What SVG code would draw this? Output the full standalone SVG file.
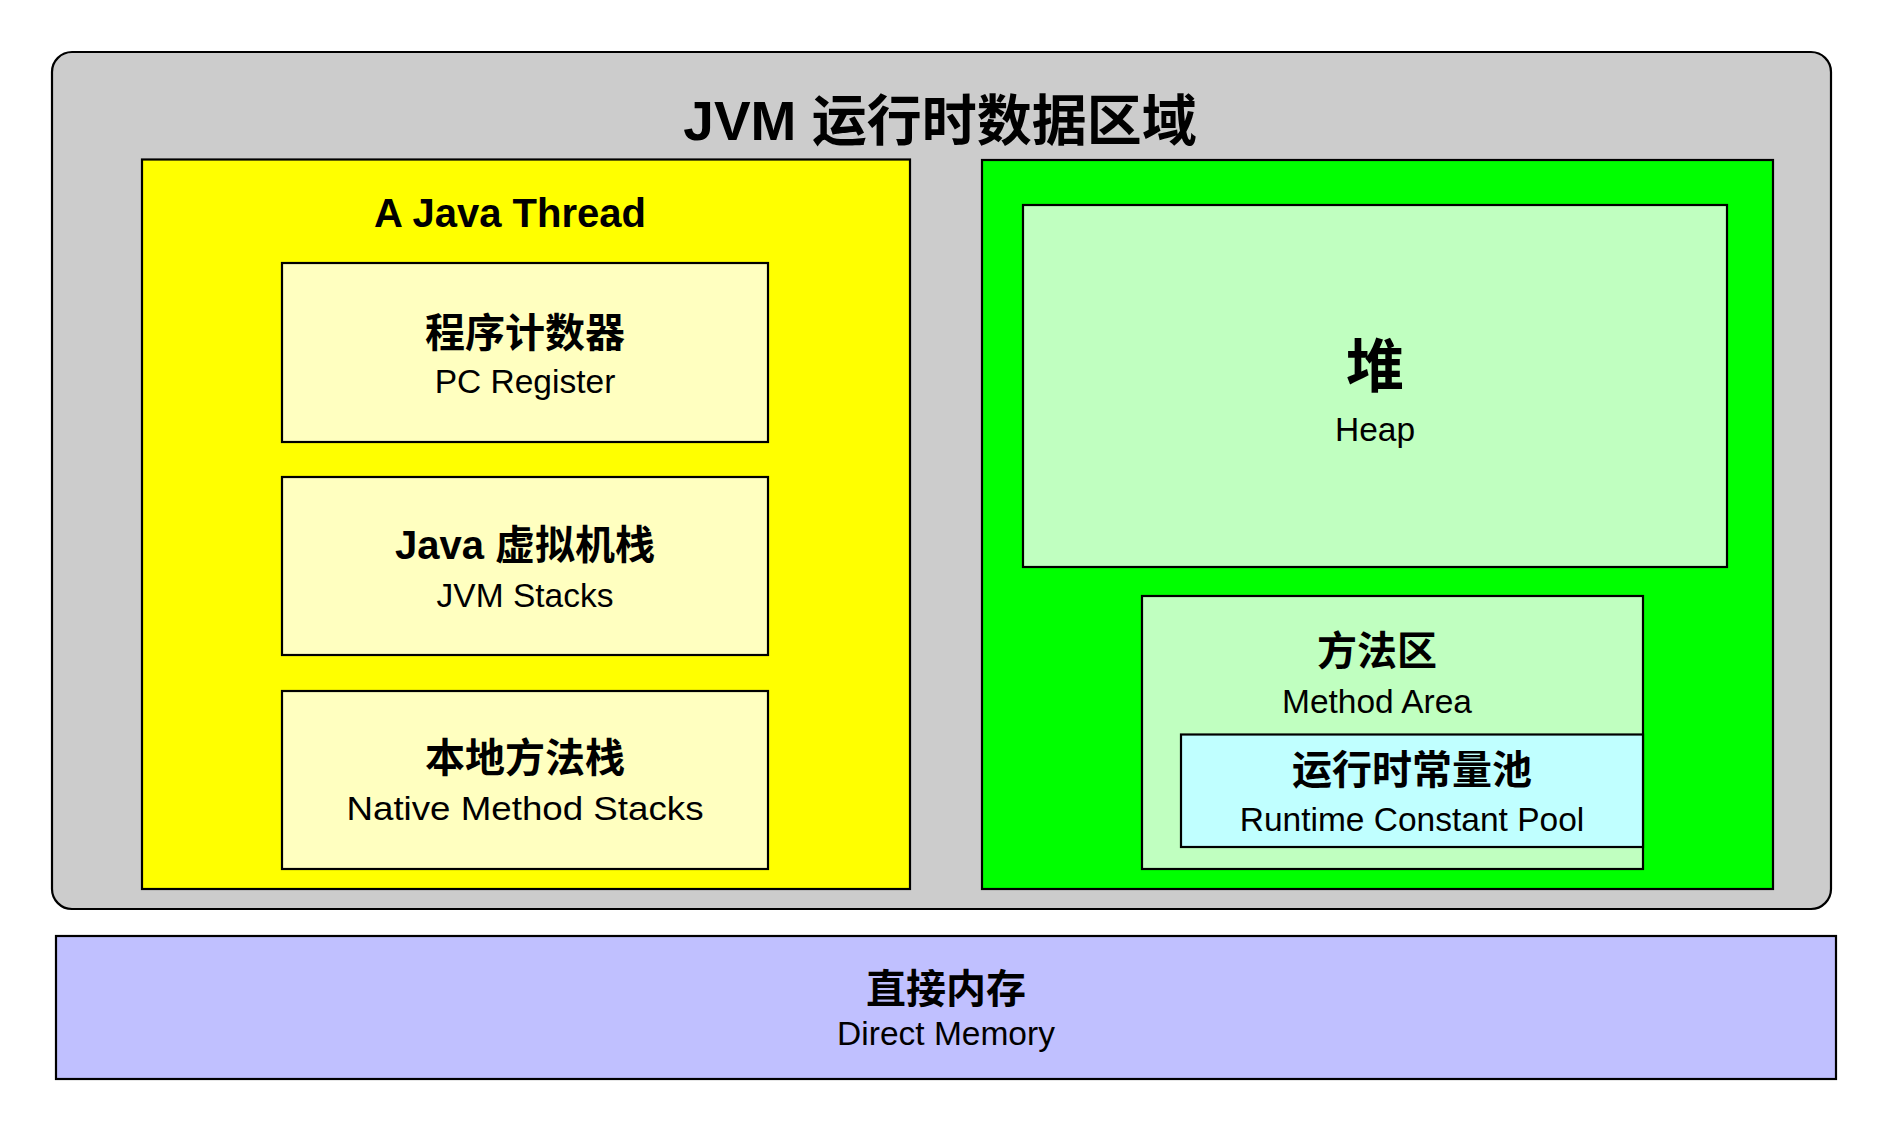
<svg xmlns="http://www.w3.org/2000/svg" width="1887" height="1130" viewBox="0 0 1887 1130">
<style>
.box{stroke:#000;stroke-width:2.2}
.t{font-family:'Liberation Sans','Noto Sans CJK SC',sans-serif;text-anchor:middle;fill:#000}
.cn{font-size:40px;font-weight:700}
.en{font-size:33.5px;font-weight:400}
</style>
<rect width="1887" height="1130" fill="#ffffff"/>
<g id="runtime-area">
<rect class="box" x="52" y="52" width="1779" height="857" rx="20" ry="20" fill="#cccccc"/>
<text class="t" x="940" y="140" style="font-size:55px;font-weight:700">JVM 运行时数据区域</text>
</g>
<g id="java-thread">
<rect class="box" x="142" y="159.5" width="768" height="729.5" fill="#ffff00"/>
<text class="t" x="510" y="227" style="font-size:40px;font-weight:700">A Java Thread</text>
</g>
<g id="pc-register">
<rect class="box" x="282" y="263" width="486" height="179" fill="#ffffc0"/>
<text class="t cn" x="525" y="347">程序计数器</text>
<text class="t en" x="525" y="393">PC Register</text>
</g>
<g id="jvm-stacks">
<rect class="box" x="282" y="477" width="486" height="178" fill="#ffffc0"/>
<text class="t cn" x="525" y="559">Java 虚拟机栈</text>
<text class="t en" x="525" y="607">JVM Stacks</text>
</g>
<g id="native-stacks">
<rect class="box" x="282" y="691" width="486" height="178" fill="#ffffc0"/>
<text class="t cn" x="525" y="772">本地方法栈</text>
<text class="t en" x="525" y="820" textLength="357" lengthAdjust="spacingAndGlyphs">Native Method Stacks</text>
</g>
<g id="shared-area">
<rect class="box" x="982" y="160" width="791" height="729" fill="#00ff00"/>
</g>
<g id="heap">
<rect class="box" x="1023" y="205" width="704" height="362" fill="#c0ffc0"/>
<text class="t" x="1375" y="387" style="font-size:58px;font-weight:700">堆</text>
<text class="t en" x="1375" y="441">Heap</text>
</g>
<g id="method-area">
<rect class="box" x="1142" y="596" width="501" height="273" fill="#c0ffc0"/>
<text class="t cn" x="1377" y="665">方法区</text>
<text class="t en" x="1377" y="713">Method Area</text>
</g>
<g id="constant-pool">
<rect class="box" x="1181" y="734.5" width="462" height="112.5" fill="#c0ffff"/>
<text class="t cn" x="1412" y="784">运行时常量池</text>
<text class="t en" x="1412" y="831">Runtime Constant Pool</text>
</g>
<g id="direct-memory">
<rect class="box" x="56" y="936" width="1780" height="143" fill="#c0c0ff"/>
<text class="t cn" x="946" y="1003">直接内存</text>
<text class="t en" x="946" y="1045">Direct Memory</text>
</g>
<g id="connectors"></g>
</svg>
